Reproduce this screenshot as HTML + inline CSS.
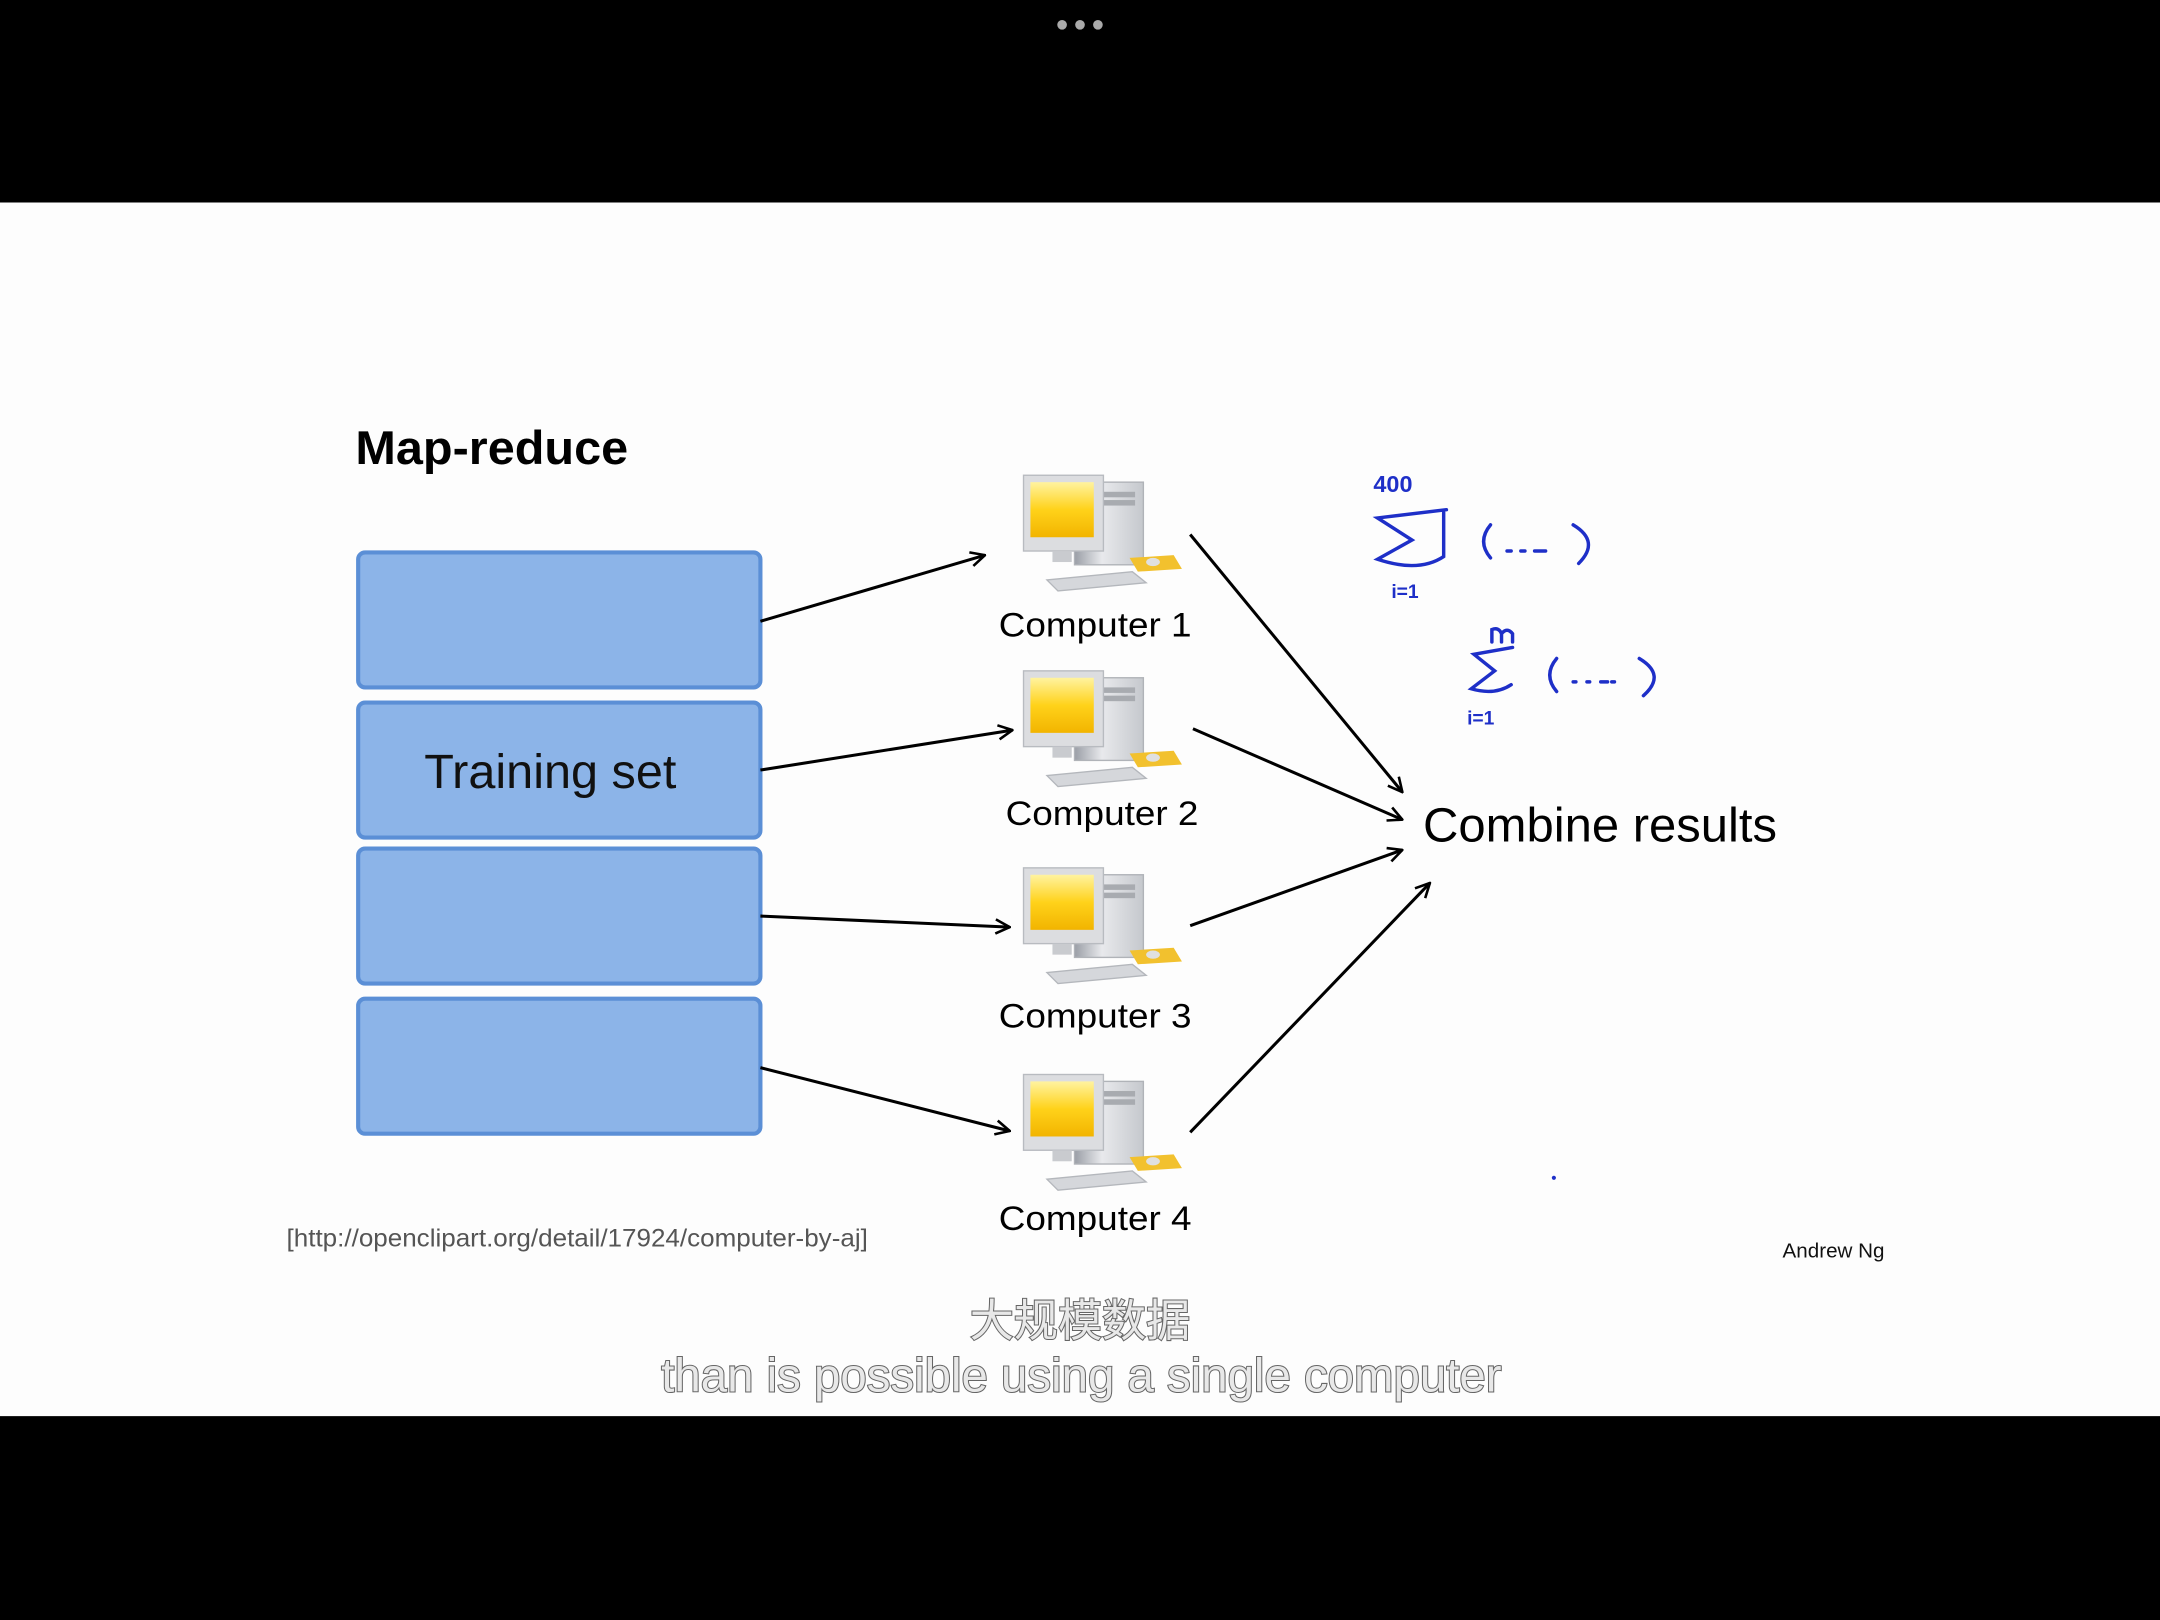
<!DOCTYPE html>
<html><head><meta charset="utf-8"><style>
html,body{margin:0;padding:0;background:#000;}
svg{display:block;}
text{font-family:"Liberation Sans","Noto Sans CJK SC",sans-serif;}
</style></head><body>
<svg width="2160" height="1620" viewBox="0 0 1568 1176" xmlns="http://www.w3.org/2000/svg">
<defs>
<linearGradient id="scr" x1="0" y1="0" x2="0" y2="1">
<stop offset="0" stop-color="#fff3a0"/><stop offset="0.5" stop-color="#ffd21a"/><stop offset="1" stop-color="#f2b400"/></linearGradient>
<linearGradient id="tw" x1="0" y1="0" x2="1" y2="0">
<stop offset="0" stop-color="#9a9ea6"/><stop offset="0.4" stop-color="#e8e9ec"/><stop offset="1" stop-color="#c5c8cd"/></linearGradient>
<marker id="ah" viewBox="0 0 14 14" refX="13" refY="7" markerWidth="12" markerHeight="12" orient="auto" markerUnits="userSpaceOnUse">
<path d="M1,1 L13,7 L1,13" fill="none" stroke="#000" stroke-width="2.2"/></marker>
<g id="pc">
<rect x="40" y="5" width="50" height="60" fill="url(#tw)" stroke="#b0b3b8"/>
<rect x="52" y="12" width="32" height="4" fill="#a8abb0"/>
<rect x="52" y="18" width="32" height="4" fill="#a8abb0"/>
<rect x="3" y="0" width="58" height="55" fill="#dcdde0" stroke="#b8bbc0"/>
<rect x="8" y="5" width="46" height="40" fill="url(#scr)"/>
<rect x="24" y="55" width="14" height="8" fill="#c9cbcf"/>
<path d="M20,76 L82,70 L92,78 L28,84 Z" fill="#d5d7db" stroke="#b4b7bc"/>
<path d="M80,60 L112,58 L118,68 L86,70 Z" fill="#f2c12e"/>
<ellipse cx="97" cy="63" rx="5" ry="3" fill="#e0e0e0"/>
</g>
</defs>
<rect x="0" y="0" width="1568" height="1176" fill="#000"/>
<rect x="0" y="147" width="1568" height="881" fill="#fdfdfd"/>
<circle cx="771" cy="18" r="3.5" fill="#aaa"/><circle cx="784" cy="18" r="3.5" fill="#aaa"/><circle cx="797" cy="18" r="3.5" fill="#aaa"/>

<text x="258" y="337" font-size="34" font-weight="bold" fill="#000" textLength="198" lengthAdjust="spacingAndGlyphs">Map-reduce</text>

<g fill="#8cb4e8" stroke="#5b8fd6" stroke-width="3">
<rect x="260" y="401" width="292" height="98" rx="5"/>
<rect x="260" y="510" width="292" height="98" rx="5"/>
<rect x="260" y="616" width="292" height="98" rx="5"/>
<rect x="260" y="725" width="292" height="98" rx="5"/>
</g>
<text x="308" y="572" font-size="35" fill="#111" textLength="183" lengthAdjust="spacingAndGlyphs">Training set</text>

<use href="#pc" x="740" y="345"/>
<use href="#pc" x="740" y="487"/>
<use href="#pc" x="740" y="630"/>
<use href="#pc" x="740" y="780"/>
<g font-size="25" fill="#000">
<text x="725" y="462" textLength="140" lengthAdjust="spacingAndGlyphs">Computer 1</text>
<text x="730" y="599" textLength="140" lengthAdjust="spacingAndGlyphs">Computer 2</text>
<text x="725" y="746" textLength="140" lengthAdjust="spacingAndGlyphs">Computer 3</text>
<text x="725" y="893" textLength="140" lengthAdjust="spacingAndGlyphs">Computer 4</text>
</g>

<g stroke="#000" stroke-width="2.2" marker-end="url(#ah)">
<line x1="552" y1="451" x2="715" y2="403"/>
<line x1="552" y1="559" x2="735" y2="530"/>
<line x1="552" y1="665" x2="733" y2="673"/>
<line x1="552" y1="775" x2="733" y2="821"/>
<line x1="864" y1="388" x2="1018" y2="575"/>
<line x1="866" y1="529" x2="1018" y2="595"/>
<line x1="864" y1="672" x2="1018" y2="617"/>
<line x1="864" y1="822" x2="1038" y2="641"/>
</g>
<text x="1033" y="611" font-size="35" fill="#000" textLength="257" lengthAdjust="spacingAndGlyphs">Combine results</text>

<g fill="none" stroke="#1e2fc8" stroke-width="2.5" stroke-linecap="round">
<path d="M1050,370 L1000,376 L1025,392 L1000,406 Q1030,416 1048,404 L1048,372"/>
<path d="M1082,381 Q1072,393 1082,405"/>
<path d="M1142,381 Q1162,393 1146,409"/>
<path d="M1094,400 h3 M1104,400 h3 M1114,400 h8"/>
<path d="M1098,470 L1070,475 L1085,487 L1068,500 Q1085,505 1097,497"/>
<path d="M1130,478 Q1120,490 1130,502"/>
<path d="M1190,478 Q1210,490 1193,505"/>
<path d="M1142,495 h2 M1152,495 h2 M1162,495 h5 M1170,495 h2"/>
<path d="M1083,466 L1083,457 Q1088,455 1090,460 L1090,466 M1090,460 Q1094,455 1098,460 L1098,466"/>
</g>
<g font-size="17" fill="#1e2fc8" font-weight="bold">
<text x="997" y="357">400</text>
<text x="1010" y="434" font-size="14">i=1</text>
<text x="1065" y="526" font-size="14">i=1</text>
</g>

<text x="208" y="905" font-size="18" fill="#555" textLength="422" lengthAdjust="spacingAndGlyphs">[http://openclipart.org/detail/17924/computer-by-aj]</text>
<text x="1294" y="913" font-size="15" fill="#111" textLength="74" lengthAdjust="spacingAndGlyphs">Andrew Ng</text>
<circle cx="1128" cy="855" r="1.5" fill="#1e2fc8"/>

<g stroke="#666" stroke-width="1.5" fill="#e8e8e8" paint-order="stroke">
<text x="784" y="970" font-size="32" text-anchor="middle">大规模数据</text>
<text x="480" y="1010" font-size="34" textLength="610" lengthAdjust="spacingAndGlyphs">than is possible using a single computer</text>
</g>
</svg>
</body></html>
